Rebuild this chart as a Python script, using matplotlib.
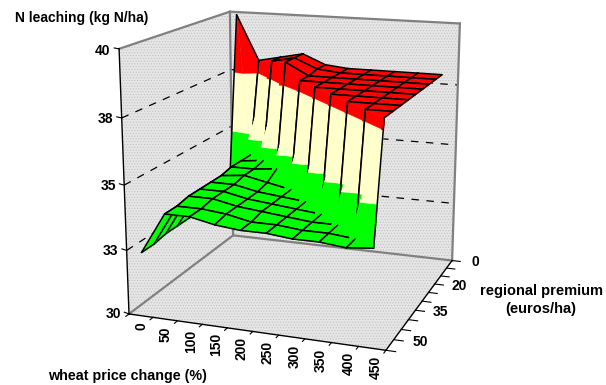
import numpy as np
import matplotlib
matplotlib.use("Agg")
import matplotlib.pyplot as plt
from mpl_toolkits.mplot3d import proj3d
from mpl_toolkits.mplot3d.art3d import Poly3DCollection

plt.rcParams["font.family"] = ["Liberation Sans", "DejaVu Sans"]
plt.rcParams["font.weight"] = "bold"
plt.rcParams["hatch.linewidth"] = 0.5

wheat_labels = ["0", "50", "100", "150", "200", "250", "300", "350", "400", "450"]
premium_labels = ["0", "20", "35", "50"]
premium_label_rows = [0, 3, 6, 9]
z_levels = [30, 32.5, 35, 37.5, 40]
z_labels = ["30", "33", "35", "38", "40"]

# N leaching, one row per premium step (back to front), one column per wheat price
row0 = [39.9, 38.0, 38.2, 38.4, 38.0, 37.9, 37.9, 37.9, 37.9, 37.9]
row1 = [32.5, 34.1, 38.2, 38.4, 38.0, 37.9, 37.9, 37.9, 37.9, 37.9]
row2 = [32.4, 34.1, 34.2, 38.4, 37.9, 37.9, 37.9, 37.9, 37.9, 37.9]
row3 = [32.4, 34.1, 34.1, 34.2, 37.9, 37.9, 37.9, 37.9, 37.9, 37.9]
row4 = [32.4, 34.0, 34.1, 33.9, 33.7, 37.9, 37.9, 37.9, 37.9, 37.9]
row5 = [32.4, 34.0, 34.0, 33.8, 33.7, 33.6, 37.9, 37.9, 37.9, 37.9]
row6 = [32.4, 34.0, 34.0, 33.8, 33.7, 33.6, 33.5, 37.9, 37.9, 37.9]
row7 = [32.4, 34.0, 34.0, 33.8, 33.7, 33.6, 33.5, 33.5, 37.9, 37.9]
row8 = [32.3, 33.9, 33.9, 33.8, 33.6, 33.6, 33.5, 33.5, 33.4, 37.9]
row9 = [32.3, 33.9, 33.9, 33.7, 33.6, 33.6, 33.5, 33.5, 33.4, 33.5]
leaching = np.array([row0, row1, row2, row3, row4, row5, row6, row7, row8, row9])

bands = [(30, 35, "#00ff00"), (35, 37.5, "#ffffcc"), (37.5, 41, "#ff0000")]

fig = plt.figure(figsize=(6.06, 3.85), dpi=100)
side = 434.72
ax = fig.add_axes([76.77 / 606, -2.07 / 385, side / 606, side / 385], projection="3d", computed_zorder=False)
ax.set_xlim(0, 10)
ax.set_ylim(0, 10)
ax.set_zlim(30, 40)
ax.set_proj_type("persp", focal_length=0.5336)
ax.view_init(elev=14.875, azim=-70.125)
ax.set_box_aspect((0.9961, 1.0008, 1))
ax.set_axis_off()
M = ax.get_proj()


def label(x, y, z, s, **kw):
    u, v, _ = proj3d.proj_transform(x, y, z, M)
    ax.text2D(u, v, s, transform=ax.transData, fontweight="bold", **kw)


# walls
walls = [[(0, 0, 30), (10, 0, 30), (10, 10, 30), (0, 10, 30)],
         [(0, 0, 30), (0, 10, 30), (0, 10, 40), (0, 0, 40)],
         [(0, 10, 30), (10, 10, 30), (10, 10, 40), (0, 10, 40)]]
ax.add_collection3d(Poly3DCollection(walls, facecolor="#e6e6e6", edgecolor="#c0c0c0", linewidth=0, hatch="......", zorder=1))

for z in z_levels[1:-1]:
    ax.plot([0, 0], [0, 10], [z, z], color="k", lw=0.9, ls=(0, (6, 6)), zorder=2)
    ax.plot([0, 10], [10, 10], [z, z], color="k", lw=0.9, ls=(0, (6, 6)), zorder=2)

gray = "#808080"
ax.plot([0, 0, 10], [0, 10, 10], [40, 40, 40], color=gray, lw=1.6, zorder=3)
ax.plot([0, 0], [10, 10], [30, 40], color=gray, lw=1.6, zorder=3)
ax.plot([10, 10], [10, 10], [30, 40], color=gray, lw=1.6, zorder=3)
ax.plot([0, 0, 10], [0, 10, 10], [30, 30, 30], color=gray, lw=1.6, zorder=3)
ax.plot([0, 10, 10], [0, 0, 10], [30, 30, 30], color="k", lw=1.0, zorder=3)
ax.plot([0, 0], [0, 0], [30, 40], color="k", lw=1.0, zorder=3)

# ticks
for i in range(11):
    ax.plot([i, i], [0, -0.25], [30, 30], color="k", lw=0.8, zorder=3)
for j in range(11):
    ax.plot([10, 10.35], [j, j], [30, 30], color="k", lw=0.8, zorder=3)
for z, lab in zip(z_levels, z_labels):
    ax.plot([0, -0.25], [0, 0.1], [z, z], color="k", lw=0.8, zorder=3)
    label(-0.42, 0.15, z - 0.12, lab, ha="right", va="center", fontsize=10)
for i, lab in enumerate(wheat_labels):
    label(i + 0.82, -0.6, 30, lab, rotation=90, ha="center", va="top", fontsize=10)
for r, lab in zip(premium_label_rows, premium_labels):
    label(11.1, 10 - (r + 0.5), 30.25, lab, ha="center", va="center", fontsize=10)


def clip(poly, lo, hi):
    # cut a polygon to the part between two heights
    for level, sign in ((lo, 1), (hi, -1)):
        out = []
        for a, b in zip(poly, poly[1:] + poly[:1]):
            da = sign * (a[2] - level)
            db = sign * (b[2] - level)
            if da >= 0:
                out.append(a)
            if da * db < 0:
                t = da / (da - db)
                out.append(tuple(a[k] + t * (b[k] - a[k]) for k in range(3)))
        poly = out
        if not poly:
            return []
    return poly


def pt(i, j):
    return (i + 0.35, 0.5 + (9 - j) * 1.044, leaching[j, i])


order = 10
for i in range(9):
    for j in range(9):
        # cells mostly high keep a smooth top edge, cells mostly low give the teeth
        if leaching[j:j + 2, i:i + 2].mean() > 36:
            tris = [[pt(i, j), pt(i + 1, j), pt(i + 1, j + 1)],
                    [pt(i, j), pt(i + 1, j + 1), pt(i, j + 1)]]
        else:
            tris = [[pt(i, j), pt(i + 1, j), pt(i, j + 1)],
                    [pt(i + 1, j), pt(i + 1, j + 1), pt(i, j + 1)]]
        for tri in tris:
            for lo, hi, col in bands:
                piece = clip(tri, lo, hi)
                if len(piece) > 2:
                    ax.add_collection3d(Poly3DCollection([piece], facecolor=col, edgecolor=col, linewidth=0.3, zorder=order))
                    order += 1
        # mesh lines; rows stop where they would climb a wall
        for a, b in ((pt(i, j), pt(i, j + 1)), (pt(i + 1, j), pt(i + 1, j + 1)),
                     (pt(i, j), pt(i + 1, j)), (pt(i, j + 1), pt(i + 1, j + 1))):
            if abs(a[1] - b[1]) < 1e-6 and abs(a[2] - b[2]) > 2:
                continue
            ax.plot([a[0], b[0]], [a[1], b[1]], [a[2], b[2]], color="k", lw=1.1, zorder=order, solid_capstyle="round")
            order += 1

fig.text(15 / 606, 1 - 18 / 385, "N leaching (kg N/ha)", fontsize=10, fontweight="bold", ha="left", va="center")
fig.text(48 / 606, 1 - 376 / 385, "wheat price change (%)", fontsize=10.3, fontweight="bold", ha="left", va="center")
fig.text(541 / 606, 1 - 300 / 385, "regional premium\n(euros/ha)", fontsize=10.5, fontweight="bold", ha="center", va="center", linespacing=1.3)

fig.savefig("out.png", dpi=100)
